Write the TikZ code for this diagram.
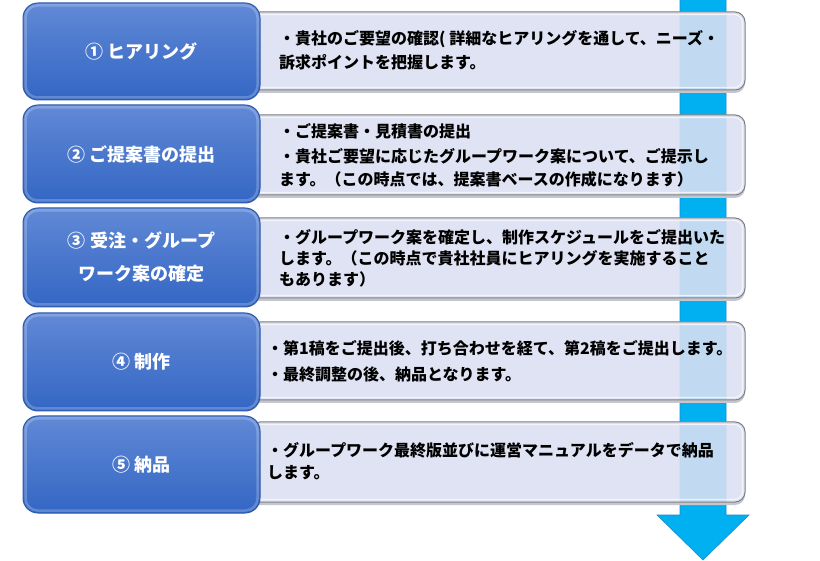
\documentclass[tikz,border=0pt]{standalone}
\usepackage{fontspec}
\newfontfamily\jp{Noto Sans CJK JP}
\definecolor{arrowc}{HTML}{00B0F0}
\definecolor{arrowd}{HTML}{1C8CC8}
\definecolor{graybox}{HTML}{DCE0F2}
\definecolor{grayedge}{HTML}{808080}
\definecolor{shadowc}{HTML}{C4C6D0}
\definecolor{bluetop}{HTML}{6189D6}
\definecolor{bluebot}{HTML}{3366C4}
\definecolor{blueedge}{HTML}{2E5AAE}
\begin{document}
\begin{tikzpicture}[x=1pt,y=-1pt,
  stepbox/.style={rounded corners=15pt, top color=bluetop, bottom color=bluebot,
    draw=blueedge, line width=1pt, minimum width=237pt, inner sep=0pt,
    text=white, align=center, font=\jp\bfseries\fontsize{18}{33}\selectfont},
  infobox/.style={rounded corners=10pt, fill=graybox, fill opacity=0.88,
    draw=grayedge, line width=1pt, minimum width=495pt, inner sep=0pt},
  infotext/.style={font=\jp\bfseries\fontsize{16}{22}\selectfont, text=black,
    anchor=base west, inner sep=0pt},
  bevel/.style={draw=white, draw opacity=0.22, line width=2.5pt, rounded corners=12pt},
  glint/.style={draw=white, draw opacity=0.7, line width=1.2pt, rounded corners=8pt}
]
\useasboundingbox (0,0) rectangle (820,561);
\fill[white] (0,0) rectangle (820,561);

% arrow
\fill[arrowc, draw=arrowd, line width=0.6pt]
  (680,-1) -- (726,-1) -- (726,515) -- (749,515) -- (703,560)
  -- (657,515) -- (680,515) -- cycle;

% info boxes
\foreach \n/\cy/\h in {1/51/78, 2/155/80, 3/258/80, 4/361/78, 5/462/80}{
  \fill[shadowc, rounded corners=10pt, even odd rule]
    (250,\cy-\h/2+3) rectangle (745,\cy+\h/2+3)
    (250,\cy-\h/2) rectangle (745,\cy+\h/2);
  \node[infobox, minimum height=\h pt] (g\n) at (497.5,\cy) {};
  \draw[glint] ([shift={(3pt,-3pt)}]g\n.north west) rectangle ([shift={(-3pt,3pt)}]g\n.south east);
}

% step boxes
\node[stepbox, minimum height=97pt] (s1) at (141.5,51.5) {① ヒアリング};
\node[stepbox, minimum height=98pt] (s2) at (141.5,154) {② ご提案書の提出};
\node[stepbox, minimum height=99pt] (s3) at (141.5,257.5) {③ 受注・グループ\\ワーク案の確定};
\node[stepbox, minimum height=98pt] (s4) at (141.5,362) {④ 制作};
\node[stepbox, minimum height=97pt] (s5) at (141.5,464.5) {⑤ 納品};
\foreach \n in {1,...,5}{
  \draw[bevel] ([shift={(3pt,-3pt)}]s\n.north west) rectangle ([shift={(-3pt,3pt)}]s\n.south east);
}

% texts
\node[infotext] (t1a) at (279,44.7) {・貴社のご要望の確認( 詳細なヒアリングを通して、ニーズ・};
\node[infotext] (t1b) at (279,68.7) {訴求ポイントを把握します。};
\node[infotext] (t2a) at (279,137.7) {・ご提案書・見積書の提出};
\node[infotext] (t2b) at (279,162.7) {・貴社ご要望に応じたグループワーク案について、ご提示し};
\node[infotext] (t2c) at (279,185.7) {ます。（この時点では、提案書ベースの作成になります）};
\node[infotext] (t3a) at (279,243.7) {・グループワーク案を確定し、制作スケジュールをご提出いた};
\node[infotext] (t3b) at (279,264.7) {します。（この時点で貴社社員にヒアリングを実施すること};
\node[infotext] (t3c) at (279,285.7) {もあります）};
\node[infotext] (t4a) at (267,354.7) {・第1稿をご提出後、打ち合わせを経て、第2稿をご提出します。};
\node[infotext] (t4b) at (267,380.7) {・最終調整の後、納品となります。};
\node[infotext] (t5a) at (267,456.7) {・グループワーク最終版並びに運営マニュアルをデータで納品};
\node[infotext] (t5b) at (267,478.7) {します。};
\end{tikzpicture}
\end{document}
